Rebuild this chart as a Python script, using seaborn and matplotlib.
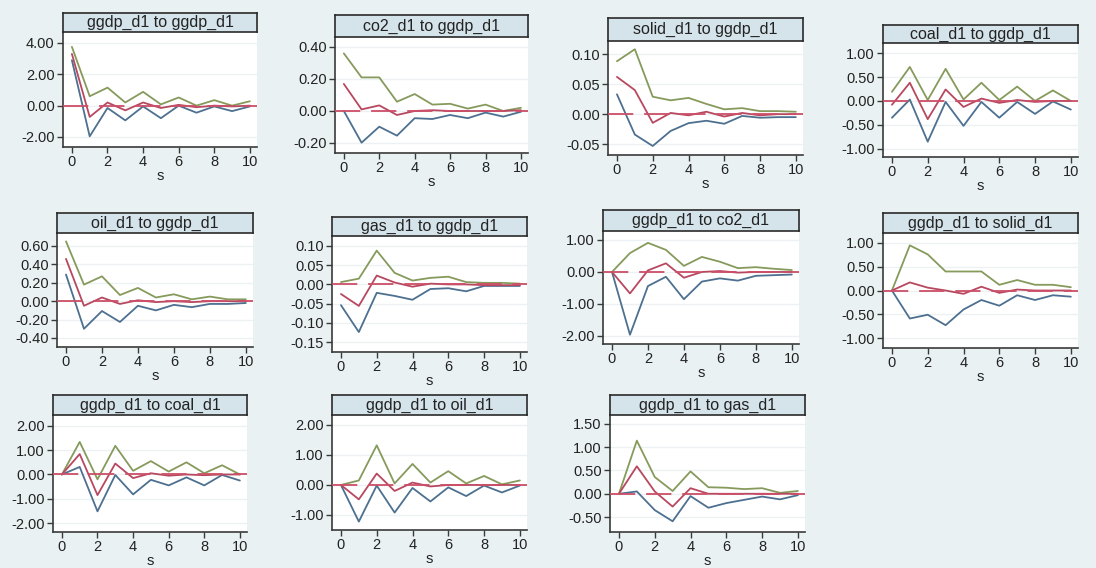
import matplotlib
matplotlib.use("Agg")
import matplotlib.pyplot as plt
import numpy as np
import pandas as pd
import seaborn as sns

# ---------------- data ----------------
steps = [0, 1, 2, 3, 4, 5, 6, 7, 8, 9, 10]

titles = ["ggdp_d1 to ggdp_d1", "co2_d1 to ggdp_d1", "solid_d1 to ggdp_d1", "coal_d1 to ggdp_d1",
          "oil_d1 to ggdp_d1", "gas_d1 to ggdp_d1", "ggdp_d1 to co2_d1", "ggdp_d1 to solid_d1",
          "ggdp_d1 to coal_d1", "ggdp_d1 to oil_d1", "ggdp_d1 to gas_d1"]

ggdp_ggdp_upper = [3.75, 0.60, 1.15, 0.20, 0.88, 0.08, 0.52, 0.00, 0.35, 0.00, 0.28]
ggdp_ggdp_irf   = [3.30, -0.72, 0.20, -0.30, 0.20, -0.15, 0.05, -0.10, 0.00, -0.05, 0.00]
ggdp_ggdp_lower = [2.90, -1.96, -0.15, -0.94, -0.05, -0.80, 0.00, -0.45, -0.05, -0.35, -0.05]

co2_ggdp_upper = [0.36, 0.21, 0.21, 0.058, 0.106, 0.040, 0.045, 0.015, 0.040, 0.000, 0.020]
co2_ggdp_irf   = [0.169, 0.010, 0.035, -0.025, 0.000, 0.005, 0.000, 0.000, 0.000, 0.000, 0.005]
co2_ggdp_lower = [0.000, -0.198, -0.098, -0.154, -0.045, -0.050, -0.025, -0.045, -0.010, -0.035, -0.005]

solid_ggdp_upper = [0.088, 0.108, 0.029, 0.023, 0.027, 0.017, 0.008, 0.010, 0.005, 0.005, 0.004]
solid_ggdp_irf   = [0.062, 0.040, -0.0145, 0.002, -0.002, 0.004, -0.004, 0.002, -0.002, 0.000, 0.000]
solid_ggdp_lower = [0.033, -0.034, -0.053, -0.028, -0.015, -0.011, -0.016, -0.003, -0.006, -0.005, -0.005]

coal_ggdp_upper = [0.19, 0.71, 0.02, 0.67, 0.03, 0.38, 0.02, 0.30, 0.00, 0.22, 0.00]
coal_ggdp_irf   = [-0.08, 0.38, -0.38, 0.24, -0.125, 0.05, -0.04, 0.02, -0.02, 0.00, 0.00]
coal_ggdp_lower = [-0.35, 0.03, -0.85, -0.02, -0.52, -0.02, -0.35, -0.02, -0.27, -0.01, -0.18]

oil_ggdp_upper = [0.65, 0.18, 0.27, 0.067, 0.144, 0.040, 0.075, 0.020, 0.050, 0.020, 0.020]
oil_ggdp_irf   = [0.46, -0.05, 0.04, -0.03, 0.01, -0.01, 0.00, -0.01, 0.00, 0.00, 0.00]
oil_ggdp_lower = [0.29, -0.30, -0.107, -0.226, -0.05, -0.10, -0.04, -0.065, -0.03, -0.03, -0.02]

gas_ggdp_upper = [0.006, 0.015, 0.088, 0.030, 0.010, 0.017, 0.020, 0.006, 0.004, 0.004, 0.002]
gas_ggdp_irf   = [-0.025, -0.056, 0.023, 0.005, -0.006, 0.002, 0.000, 0.000, -0.002, -0.002, -0.002]
gas_ggdp_lower = [-0.054, -0.124, -0.022, -0.030, -0.040, -0.012, -0.010, -0.018, -0.004, -0.004, -0.004]

ggdp_co2_upper = [0.00, 0.59, 0.91, 0.69, 0.19, 0.47, 0.32, 0.12, 0.15, 0.10, 0.06]
ggdp_co2_irf   = [0.00, -0.67, 0.05, 0.27, -0.18, 0.00, 0.03, -0.02, 0.00, 0.00, 0.00]
ggdp_co2_lower = [0.00, -1.96, -0.44, -0.15, -0.85, -0.30, -0.20, -0.27, -0.12, -0.10, -0.08]

ggdp_solid_upper = [0.00, 0.95, 0.76, 0.40, 0.40, 0.40, 0.12, 0.22, 0.12, 0.12, 0.07]
ggdp_solid_irf   = [0.00, 0.17, 0.06, 0.00, -0.07, 0.08, -0.05, 0.02, 0.00, 0.00, 0.00]
ggdp_solid_lower = [0.00, -0.59, -0.51, -0.73, -0.40, -0.20, -0.32, -0.10, -0.20, -0.10, -0.13]

ggdp_coal_upper = [0.00, 1.34, -0.20, 1.18, 0.15, 0.55, 0.12, 0.50, 0.05, 0.38, 0.00]
ggdp_coal_irf   = [0.00, 0.84, -0.85, 0.45, -0.15, 0.05, -0.05, 0.00, -0.03, 0.00, 0.00]
ggdp_coal_lower = [0.00, 0.31, -1.52, -0.02, -0.82, -0.22, -0.45, -0.12, -0.45, -0.02, -0.25]

ggdp_oil_upper = [0.00, 0.15, 1.32, 0.05, 0.70, 0.08, 0.46, 0.05, 0.30, 0.02, 0.15]
ggdp_oil_irf   = [0.00, -0.48, 0.38, -0.20, 0.08, -0.05, 0.00, 0.00, 0.00, 0.00, 0.00]
ggdp_oil_lower = [0.00, -1.22, -0.02, -0.92, -0.10, -0.55, -0.08, -0.37, -0.02, -0.25, -0.02]

ggdp_gas_upper = [0.00, 1.14, 0.36, 0.06, 0.48, 0.14, 0.13, 0.10, 0.12, 0.02, 0.06]
ggdp_gas_irf   = [0.00, 0.59, 0.05, -0.275, 0.12, 0.00, 0.00, 0.00, 0.00, 0.00, 0.00]
ggdp_gas_lower = [0.00, 0.05, -0.35, -0.59, -0.05, -0.30, -0.20, -0.13, -0.06, -0.12, -0.03]

series_upper = [ggdp_ggdp_upper, co2_ggdp_upper, solid_ggdp_upper, coal_ggdp_upper, oil_ggdp_upper,
                gas_ggdp_upper, ggdp_co2_upper, ggdp_solid_upper, ggdp_coal_upper, ggdp_oil_upper,
                ggdp_gas_upper]
series_irf = [ggdp_ggdp_irf, co2_ggdp_irf, solid_ggdp_irf, coal_ggdp_irf, oil_ggdp_irf,
              gas_ggdp_irf, ggdp_co2_irf, ggdp_solid_irf, ggdp_coal_irf, ggdp_oil_irf,
              ggdp_gas_irf]
series_lower = [ggdp_ggdp_lower, co2_ggdp_lower, solid_ggdp_lower, coal_ggdp_lower, oil_ggdp_lower,
                gas_ggdp_lower, ggdp_co2_lower, ggdp_solid_lower, ggdp_coal_lower, ggdp_oil_lower,
                ggdp_gas_lower]

ytick_sets = [[-2, 0, 2, 4], [-0.2, 0, 0.2, 0.4], [-0.05, 0, 0.05, 0.10],
              [-1, -0.5, 0, 0.5, 1], [-0.4, -0.2, 0, 0.2, 0.4, 0.6],
              [-0.15, -0.10, -0.05, 0, 0.05, 0.10], [-2, -1, 0, 1],
              [-1, -0.5, 0, 0.5, 1], [-2, -1, 0, 1, 2], [-1, 0, 1, 2],
              [-0.5, 0, 0.5, 1.0, 1.5]]
ylims = [(-2.64, 4.70), (-0.2625, 0.4625), (-0.068, 0.1217), (-1.17, 1.21),
         (-0.498, 0.741), (-0.176, 0.126), (-2.25, 1.28), (-1.21, 1.21),
         (-2.37, 2.45), (-1.50, 2.33), (-0.82, 1.69)]
xticks = [0, 2, 4, 6, 8, 10]

# ---------------- layout (pixels: left, right, axes top, axes bottom, title-box top) ----------------
W, H = 1096, 568
rects = [(63, 257, 32, 147, 13), (335, 528, 37, 153, 15), (608, 803, 41, 155, 18),
         (883, 1078, 43, 157, 25), (57, 253, 233, 347, 213), (332, 527, 236, 352, 217),
         (603, 799, 231, 344, 210), (883, 1078, 233, 348, 213), (53, 247, 415, 532, 395),
         (332, 527, 415, 530, 395), (610, 805, 415, 532, 395)]

c_upper = "#869a5c"
c_irf = "#b8485f"
c_lower = "#4d7090"
c_zero = "#cc4f68"
bg = "#e9f1f2"
box_fill = "#d5e3ea"

sns.set_theme(style="white")
plt.rcParams["font.family"] = ["Liberation Sans", "DejaVu Sans"]

fig = plt.figure(figsize=(W / 100, H / 100), dpi=100)
fig.patch.set_facecolor(bg)

for i in range(len(titles)):
    l, r, t, b, bt = rects[i]
    ax = fig.add_axes([l / W, 1 - b / H, (r - l) / W, (b - t) / H])
    ax.set_facecolor("white")
    df = pd.DataFrame({
        "s": steps * 3,
        "value": list(series_upper[i]) + list(series_irf[i]) + list(series_lower[i]),
        "band": ["upper"] * 11 + ["irf"] * 11 + ["lower"] * 11,
    })
    sns.lineplot(data=df, x="s", y="value", hue="band",
                 hue_order=["lower", "upper", "irf"],
                 palette={"upper": c_upper, "irf": c_irf, "lower": c_lower},
                 linewidth=1.3, legend=False, ax=ax)
    ax.axhline(0, color=c_zero, lw=1.3, dashes=(14, 6), zorder=5)
    ax.set_xlim(-0.5, 10.4)
    ax.set_ylim(*ylims[i])
    ax.set_xticks(xticks)
    ax.set_yticks(ytick_sets[i])
    ax.set_yticklabels([f"{v:.2f}" for v in ytick_sets[i]])
    ax.yaxis.grid(True, color="#eef1f3", lw=1.0)
    ax.xaxis.grid(False)
    for side in ["top", "right"]:
        ax.spines[side].set_visible(False)
    for side in ["left", "bottom"]:
        ax.spines[side].set_color("#3a3a3a")
        ax.spines[side].set_linewidth(1.2)
    ax.tick_params(axis="both", which="major", direction="out", length=4, width=1.0,
                   color="#3a3a3a", labelsize=10.5, labelcolor="#222222", pad=2,
                   left=True, bottom=True)
    ax.set_xlabel("s", fontsize=10.5, color="#222222", labelpad=0)
    ax.set_ylabel("")

    # title box
    tb = fig.add_axes([l / W, 1 - t / H, (r - l) / W, (t - bt) / H])
    tb.set_facecolor(box_fill)
    tb.set_xticks([])
    tb.set_yticks([])
    for sp in tb.spines.values():
        sp.set_color("#2a2a2a")
        sp.set_linewidth(1.2)
        sp.set_visible(True)
    tb.text(0.5, 0.5, titles[i], ha="center", va="center", fontsize=11.5,
            color="#222222", transform=tb.transAxes)

fig.savefig("out.png", dpi=100, facecolor=bg)
